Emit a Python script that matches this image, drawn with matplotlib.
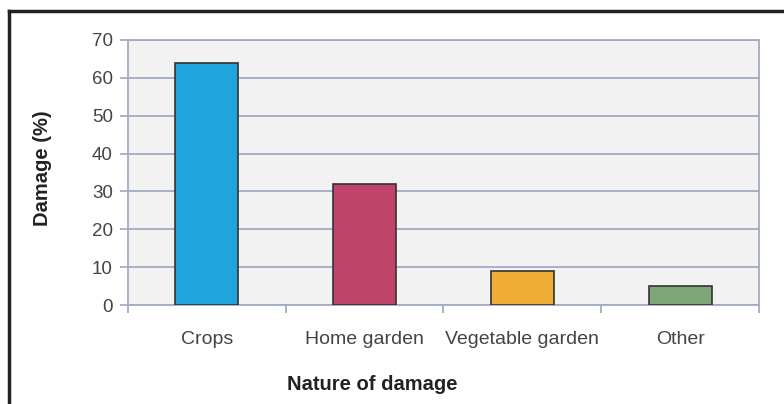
import numpy as np
import matplotlib.pyplot as plt
from matplotlib.ticker import FixedLocator, NullFormatter

# data
categories = ['Crops', 'Home garden', 'Vegetable garden', 'Other']
damage = [64, 32, 9, 5]
bar_colors = ['#1fa4dc', '#c0446a', '#f0ad35', '#7ea678']

plt.rcParams['font.family'] = ['Liberation Sans', 'DejaVu Sans']
grid_col = '#a3abc6'
text_col = '#444444'

fig = plt.figure(figsize=(7.84, 4.04), dpi=100)
ax = fig.add_axes([128/784, 1 - 305/404, (759-128)/784, (305-40)/404])

x = np.arange(len(categories))
ax.bar(x, damage, width=0.4, color=bar_colors, edgecolor='#333333', linewidth=1.2, zorder=3)

ax.set_xlim(-0.5, len(categories) - 0.5)
ax.set_ylim(0, 70)
ax.set_yticks(range(0, 71, 10))
ax.set_facecolor('#f2f2f2')
ax.grid(axis='y', color=grid_col, linewidth=1.3, zorder=1)
for s in ax.spines.values():
    s.set_color(grid_col)
    s.set_linewidth(1.3)

# category labels between boundary ticks
ax.xaxis.set_major_locator(FixedLocator(np.arange(-0.5, len(categories), 1)))
ax.xaxis.set_major_formatter(NullFormatter())
ax.xaxis.set_minor_locator(FixedLocator(x))
ax.set_xticklabels(categories, minor=True)
ax.tick_params(axis='x', which='major', length=6, color=grid_col, width=1.3)
ax.tick_params(axis='x', which='minor', length=0, pad=19, labelsize=14, labelcolor=text_col)
ax.tick_params(axis='y', length=6, color=grid_col, width=1.3, pad=5, labelsize=13.5, labelcolor=text_col)

fig.text(42/784, 1 - 168/404, 'Damage (%)', rotation=90, ha='center', va='center',
         fontsize=14.5, fontweight='bold', color='#222222')
fig.text(372/784, 1 - 384/404, 'Nature of damage', ha='center', va='center',
         fontsize=14.5, fontweight='bold', color='#222222')

# frame lines top and left
fig.add_artist(plt.Line2D([9/784, 1], [1 - 11/404, 1 - 11/404], color='#222222', linewidth=2.5))
fig.add_artist(plt.Line2D([9/784, 9/784], [0, 1 - 11/404], color='#222222', linewidth=2.5))

fig.savefig('out.png', dpi=100)
